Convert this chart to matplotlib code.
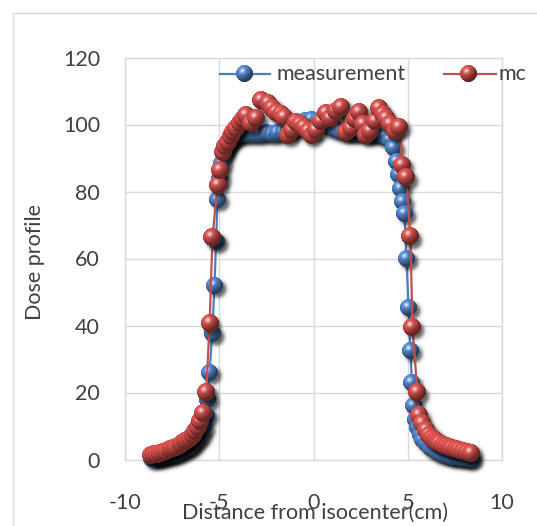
import numpy as np
import matplotlib
matplotlib.use("Agg")
import matplotlib.pyplot as plt
from matplotlib.lines import Line2D
from matplotlib.offsetbox import OffsetImage, AnnotationBbox

plt.rcParams['font.family'] = ['Lato', 'DejaVu Sans']
plt.rcParams['axes.unicode_minus'] = False

# ---- data -------------------------------------------------------------
meas_x = [-8.6, -8.4, -8.2, -8.0, -7.8, -7.6, -7.4, -7.2, -7.0, -6.8, -6.6, -6.4,
          -6.2, -6.0, -5.85, -5.7, -5.6, -5.51, -5.38, -5.25, -5.17, -5.09, -5.0,
          -4.9, -4.75, -4.6, -4.4, -4.2, -4.0, -3.7, -3.4, -3.1, -2.8, -2.5, -2.2,
          -1.9, -1.6, -1.3, -1.0, -0.7, -0.4, -0.1, 0.2, 0.5, 0.8, 1.1, 1.4, 1.7,
          2.0, 2.3, 2.6, 2.9, 3.2, 3.5, 3.8, 4.05, 4.25, 4.4, 4.5, 4.6, 4.72, 4.83,
          4.93, 5.04, 5.14, 5.22, 5.3, 5.4, 5.5, 5.65, 5.8, 6.0, 6.2, 6.4, 6.6, 6.8,
          7.0, 7.2, 7.4, 7.6, 7.8, 8.0, 8.2, 8.4]
meas_y = [0.3, 0.5, 0.7, 0.9, 1.1, 1.4, 1.7, 2.1, 2.6, 3.2, 3.9, 4.8,
          6.0, 7.6, 9.5, 13.0, 18.0, 26.0, 37.7, 52.0, 65.0, 77.7, 84.0,
          88.5, 91.5, 94.0, 95.5, 96.5, 97.0, 97.3, 97.4, 97.3, 97.4, 97.5, 97.4,
          97.6, 98.0, 98.8, 99.8, 100.6, 101.2, 101.5, 101.2, 100.5, 99.5, 98.7, 98.2, 97.9,
          97.7, 97.6, 97.5, 97.4, 97.3, 97.0, 96.5, 95.5, 93.0, 89.0, 85.0, 81.0, 77.0, 73.5,
          60.0, 45.5, 32.6, 23.0, 16.0, 12.0, 9.5, 7.5, 6.0, 4.7, 3.7, 2.9, 2.3, 1.9,
          1.5, 1.2, 1.0, 0.8, 0.6, 0.5, 0.4, 0.3]

mc_x = [-8.6, -8.45, -8.3, -8.15, -7.97, -7.8, -7.6, -7.45, -7.27, -7.1, -6.96, -6.83,
        -6.7, -6.55, -6.4, -6.28, -6.15, -6.0, -5.88, -5.69, -5.51, -5.36, -5.09, -4.98,
        -4.81, -4.68, -4.54, -4.4, -4.28, -4.1, -3.92, -3.75, -3.57, -3.3, -3.04, -2.77,
        -2.42, -2.2, -1.98, -1.75, -1.54, -1.36, -1.15, -0.92, -0.7, -0.48, -0.3, -0.1,
        0.15, 0.4, 0.67, 0.9, 1.2, 1.47, 1.73, 2.0, 2.2, 2.44, 2.62, 2.79, 3.0, 3.25,
        3.5, 3.7, 3.85, 4.05, 4.3, 4.56, 4.72, 4.93, 5.14, 5.25, 5.51, 5.62, 5.78, 5.99,
        6.15, 6.3, 6.42, 6.55, 6.68, 6.85, 7.05, 7.2, 7.37, 7.55, 7.74, 7.95, 8.15, 8.38]
mc_y = [1.3, 1.5, 1.7, 1.9, 2.2, 2.6, 3.1, 3.4, 3.7, 4.3, 4.9, 5.4,
        5.8, 6.5, 7.3, 8.5, 9.7, 11.5, 13.8, 20.2, 40.7, 66.3, 82.0, 86.4,
        91.8, 93.5, 94.8, 96.5, 97.8, 99.0, 100.3, 101.5, 102.8, 100.3, 101.8, 107.3,
        106.3, 105.0, 103.8, 103.0, 102.3, 96.8, 98.5, 100.8, 100.0, 99.3, 98.0, 97.0,
        98.5, 101.0, 103.3, 102.0, 104.0, 105.3, 97.8, 99.0, 101.5, 103.8, 100.0, 96.8, 98.0, 101.0,
        104.8, 103.0, 101.8, 100.0, 98.0, 99.3, 88.0, 84.2, 66.6, 39.6, 20.0, 13.2, 10.8, 8.7,
        7.3, 6.5, 5.8, 5.3, 4.9, 4.4, 4.0, 3.7, 3.4, 3.1, 2.8, 2.5, 2.2, 1.9]

series_names = ["measurement", "mc"]
x_ticks = [-10, -5, 0, 5, 10]
y_ticks = [0, 20, 40, 60, 80, 100, 120]
x_label = "Distance from isocenter(cm)"
y_label = "Dose profile"

# ---- styling ----------------------------------------------------------
W, H, DPI = 537, 526, 100
BLUE = (0.31, 0.51, 0.78)
RED = (0.80, 0.30, 0.29)
BLUE_LINE = "#4a7ebb"
RED_LINE = "#c0504d"
GRID = "#d9d9d9"
TEXT = "#404040"


def ball_sprite(rgb, n=72):
    """Glossy sphere marker as an RGBA array."""
    yy, xx = np.mgrid[0:n, 0:n]
    u = (xx + 0.5 - n / 2) / (n / 2)
    v = -(yy + 0.5 - n / 2) / (n / 2)
    r2 = u ** 2 + v ** 2
    d = np.sqrt(r2)
    z = np.sqrt(np.clip(1 - r2, 0, 1))
    L = np.array([-0.45, 0.6, 0.66]); L /= np.linalg.norm(L)
    Hv = L + np.array([0, 0, 1.0]); Hv /= np.linalg.norm(Hv)
    diff = np.clip(u * L[0] + v * L[1] + z * L[2], 0, 1)
    spec = np.clip(u * Hv[0] + v * Hv[1] + z * Hv[2], 0, 1) ** 25
    base = np.array(rgb)
    shade = base[None, None, :] * (0.5 + 0.62 * diff)[..., None]
    col = shade + spec[..., None] * 0.8 * (1 - shade)
    col = np.clip(col, 0, 1)
    alpha = np.clip((1 - d) * n / 2 + 0.5, 0, 1)
    return np.dstack([col, alpha])


def shadow_sprite(n=72, strength=0.6):
    m = int(n * 1.6)
    yy, xx = np.mgrid[0:m, 0:m]
    d = np.hypot(xx + 0.5 - m / 2, yy + 0.5 - m / 2) / (n / 2)
    a = strength / (1 + np.exp((d - 0.95) / 0.12))
    out = np.zeros((m, m, 4))
    out[..., 3] = a
    return out


SPR = 72
blue_ball = ball_sprite(BLUE, SPR)
red_ball = ball_sprite(RED, SPR)
shadow = shadow_sprite(SPR)


def put(ax, img, px, xy, coords="data", off=(0, 0), z=5):
    oi = OffsetImage(img, zoom=px / SPR, dpi_cor=False)
    ab = AnnotationBbox(oi, xy, xycoords=coords, frameon=False, pad=0,
                        xybox=off, boxcoords="offset points", zorder=z,
                        annotation_clip=False)
    ax.add_artist(ab)


fig = plt.figure(figsize=(W / DPI, H / DPI), dpi=DPI)
fig.patch.set_facecolor("white")

# outer chart-area frame (left and top edges)
fx, fy = 12.5 / W, 1 - 12.5 / H
fig.add_artist(Line2D([fx, fx, 1.01], [-0.01, fy, fy], transform=fig.transFigure,
                      color=GRID, lw=1.0))

ax = fig.add_axes([125 / W, 1 - 459.5 / H, 377 / W, 402 / H])
ax.set_xlim(-10, 10)
ax.set_ylim(0, 120)
ax.set_xticks(x_ticks)
ax.set_yticks(y_ticks)
ax.grid(True, color=GRID, lw=1.0, zorder=0)
ax.set_axisbelow(True)
for s in ax.spines.values():
    s.set_color(GRID)
    s.set_linewidth(1.0)
ax.tick_params(length=0, labelsize=15.5, colors=TEXT)
ax.tick_params(axis="x", pad=24)
ax.tick_params(axis="y", pad=18)

ax.set_xlabel(x_label, fontsize=15.5, color=TEXT)
ax.xaxis.label.set_va("center")
ax.xaxis.set_label_coords(0.504, -0.133)
ax.set_ylabel(y_label, fontsize=15.5, color=TEXT)
ax.yaxis.label.set_va("center")
ax.yaxis.set_label_coords(-0.239, 0.491)

# measurement series
ax.plot(meas_x, meas_y, color=BLUE_LINE, lw=1.6, zorder=2)
for x, y in zip(meas_x, meas_y):
    put(ax, shadow, 17, (x, y), off=(2.2, -2.8), z=3)
for x, y in zip(meas_x, meas_y):
    put(ax, blue_ball, 17, (x, y), z=4)

# Monte Carlo series
ax.plot(mc_x, mc_y, color=RED_LINE, lw=1.6, zorder=5)
for x, y in zip(mc_x, mc_y):
    put(ax, shadow, 18, (x, y), off=(2.2, -2.8), z=6)
for x, y in zip(mc_x, mc_y):
    put(ax, red_ball, 18, (x, y), z=7)

# legend
ly = 0.959
for (x0, x1, xb, xt), name, lc, ball in [
        ((0.252, 0.385, 0.316, 0.403), series_names[0], BLUE_LINE, blue_ball),
        ((0.846, 0.984, 0.912, 0.992), series_names[1], RED_LINE, red_ball)]:
    ax.add_artist(Line2D([x0, x1], [ly, ly], transform=ax.transAxes, color=lc,
                         lw=1.6, zorder=8, clip_on=False))
    put(ax, ball, 17, (xb, ly), coords="axes fraction", z=9)
    ax.text(xt, ly, name, transform=ax.transAxes, ha="left", va="center",
            fontsize=15.5, color=TEXT, zorder=9, clip_on=False)

fig.savefig("out.png", dpi=DPI)
